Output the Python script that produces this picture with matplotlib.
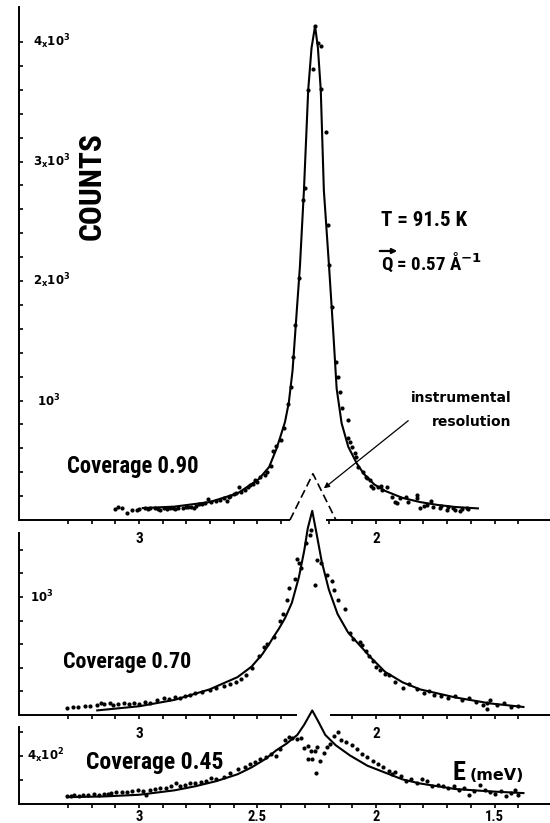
import numpy as np
import matplotlib
matplotlib.use('Agg')
import matplotlib.pyplot as plt
from matplotlib import font_manager as fm

# pick a condensed bold face if one is installed
FAMILY, STRETCH = 'DejaVu Sans', 'normal'
for name, stretch in [('Liberation Sans Narrow', None), ('Roboto Condensed', None),
                      ('DejaVu Sans', 'condensed'), ('Noto Sans', 'condensed'),
                      ('Open Sans', 'condensed'), ('Roboto', 'condensed')]:
    hits = [f for f in fm.fontManager.ttflist if f.name == name
            and (stretch is None or f.stretch == stretch)]
    if hits:
        FAMILY, STRETCH = name, stretch or 'normal'
        break

plt.rcParams.update({
    'font.family': FAMILY,
    'font.stretch': STRETCH,
    'font.weight': 'bold',
    'mathtext.fontset': 'dejavusans',
    'mathtext.default': 'bf',
    'axes.linewidth': 1.4,
})

# ---- coverage 0.90 (top panel) ----
fit90_e = [2.984, 2.850, 2.702, 2.584, 2.495, 2.451, 2.421, 2.406, 2.384, 2.368,
           2.352, 2.336, 2.321, 2.304, 2.286, 2.272, 2.257, 2.245, 2.233, 2.220,
           2.198, 2.180, 2.166, 2.145, 2.117, 2.081, 2.051, 2.007, 1.962, 1.888,
           1.814, 1.740, 1.666, 1.570]
fit90_c = [100, 112, 150, 223, 341, 443, 590, 680, 820, 980,
           1250, 1700, 2120, 2760, 3598, 3950, 4134, 3950, 3598, 2760,
           2120, 1562, 1100, 809, 613, 473, 385, 297, 244, 185,
           150, 126, 109, 97]
pts90_e = [3.102, 3.087, 3.070, 3.050, 3.028, 3.010, 2.999, 2.976, 2.960, 2.954,
           2.932, 2.920, 2.910, 2.895, 2.880, 2.870, 2.858, 2.850, 2.836, 2.813,
           2.800, 2.791, 2.780, 2.769, 2.760, 2.747, 2.732, 2.720, 2.710, 2.695,
           2.673, 2.660, 2.643, 2.628, 2.620, 2.614, 2.599, 2.590, 2.577, 2.569,
           2.554, 2.540, 2.532, 2.520, 2.510, 2.500, 2.488, 2.470, 2.458, 2.443,
           2.436, 2.421, 2.402, 2.388, 2.371, 2.357, 2.349, 2.342, 2.325, 2.309,
           2.300, 2.286, 2.267, 2.257, 2.243, 2.233, 2.233, 2.211, 2.201, 2.197,
           2.187, 2.170, 2.159, 2.152, 2.142, 2.119, 2.117, 2.110, 2.103, 2.088,
           2.084, 2.075, 2.056, 2.044, 2.039, 2.025, 2.021, 2.011, 1.990, 1.977,
           1.976, 1.955, 1.934, 1.918, 1.913, 1.899, 1.873, 1.864, 1.829, 1.828,
           1.814, 1.799, 1.786, 1.770, 1.758, 1.730, 1.726, 1.702, 1.696, 1.674,
           1.666, 1.646, 1.637, 1.617, 1.614]
pts90_c = [91, 106, 97, 62, 85, 85, 91, 100, 95, 97,
           97, 92, 85, 97, 91, 100, 97, 95, 103, 100,
           108, 106, 112, 100, 118, 132, 135, 140, 173, 150,
           161, 170, 185, 161, 190, 202, 214, 222, 273, 238,
           252, 280, 296, 300, 331, 318, 361, 380, 405, 449,
           575, 619, 669, 767, 971, 1110, 1367, 1632, 2023, 2678,
           2776, 3598, 3771, 4134, 3994, 3967, 3607, 3250, 2469, 2134,
           1780, 1325, 1200, 1068, 935, 837, 684, 655, 613, 561,
           525, 441, 404, 361, 349, 335, 282, 265, 279, 282,
           251, 274, 195, 150, 140, 182, 194, 153, 208, 182,
           98, 120, 126, 156, 111, 98, 120, 84, 106, 98,
           85, 75, 91, 98, 91]
res_e = [2.363, 2.266, 2.169]
res_c = [0, 387, 0]

# ---- coverage 0.70 (middle panel) ----
fit70_e = [3.176, 2.999, 2.850, 2.702, 2.584, 2.525, 2.480, 2.451, 2.436, 2.410,
           2.384, 2.355, 2.325, 2.303, 2.288, 2.269, 2.251, 2.229, 2.199, 2.162,
           2.118, 2.073, 2.021, 1.962, 1.888, 1.814, 1.666, 1.518, 1.378]
fit70_c = [39, 74, 128, 217, 321, 410, 514, 600, 650, 730,
           820, 950, 1170, 1390, 1580, 1730, 1540, 1300, 1063, 855,
           700, 600, 485, 366, 277, 217, 149, 98, 68]
pts70_e = [3.302, 3.280, 3.258, 3.228, 3.206, 3.176, 3.161, 3.147, 3.124, 3.110,
           3.087, 3.065, 3.043, 3.021, 2.999, 2.976, 2.954, 2.925, 2.895, 2.873,
           2.850, 2.828, 2.806, 2.784, 2.762, 2.732, 2.702, 2.673, 2.643, 2.614,
           2.591, 2.569, 2.547, 2.525, 2.495, 2.473, 2.458, 2.429, 2.406, 2.392,
           2.377, 2.365, 2.343, 2.335, 2.325, 2.318, 2.294, 2.279, 2.275, 2.258,
           2.247, 2.232, 2.207, 2.184, 2.177, 2.162, 2.132, 2.110, 2.095, 2.066,
           2.058, 2.044, 2.029, 2.014, 1.999, 1.984, 1.962, 1.947, 1.918, 1.888,
           1.859, 1.829, 1.799, 1.777, 1.755, 1.725, 1.696, 1.666, 1.637, 1.607,
           1.577, 1.548, 1.533, 1.518, 1.489, 1.459, 1.429, 1.400, 1.533]
pts70_c = [62, 68, 68, 74, 77, 83, 98, 89, 98, 83,
           92, 98, 89, 104, 92, 113, 104, 128, 143, 134,
           152, 143, 164, 172, 187, 193, 211, 232, 247, 262,
           283, 306, 336, 402, 500, 574, 603, 662, 795, 855,
           974, 1072, 1152, 1325, 1286, 1242, 1456, 1524, 1569, 1099,
           1316, 1286, 1182, 1137, 1063, 974, 900, 691, 647, 617,
           589, 545, 500, 455, 410, 381, 351, 336, 277, 232,
           262, 217, 187, 202, 172, 157, 143, 164, 128, 143,
           113, 83, 104, 128, 83, 98, 68, 74, 54]

# ---- coverage 0.45 (bottom panel) ----
fit45_e = [3.302, 3.147, 2.999, 2.850, 2.762, 2.673, 2.584, 2.525, 2.466, 2.421,
           2.377, 2.332, 2.303, 2.269, 2.244, 2.214, 2.170, 2.110, 2.036, 1.962,
           1.888, 1.814, 1.666, 1.518, 1.378]
fit45_c = [57, 63, 77, 114, 148, 191, 248, 305, 376, 447,
           504, 576, 661, 780, 690, 576, 490, 405, 319, 262,
           205, 171, 125, 105, 91]
pts45_e = [3.302, 3.287, 3.272, 3.253, 3.235, 3.213, 3.191, 3.169, 3.147, 3.132,
           3.118, 3.095, 3.073, 3.050, 3.028, 3.006, 2.984, 2.969, 2.954, 2.932,
           2.910, 2.887, 2.865, 2.843, 2.828, 2.806, 2.784, 2.762, 2.739, 2.717,
           2.695, 2.673, 2.643, 2.614, 2.584, 2.554, 2.532, 2.510, 2.488, 2.466,
           2.443, 2.421, 2.406, 2.384, 2.369, 2.355, 2.332, 2.315, 2.303, 2.288,
           2.276, 2.288, 2.269, 2.258, 2.251, 2.254, 2.236, 2.221, 2.207, 2.192,
           2.177, 2.162, 2.147, 2.125, 2.103, 2.081, 2.058, 2.036, 2.014, 1.992,
           1.970, 1.947, 1.933, 1.918, 1.896, 1.873, 1.851, 1.829, 1.807, 1.784,
           1.762, 1.740, 1.718, 1.696, 1.673, 1.651, 1.629, 1.607, 1.585, 1.563,
           1.540, 1.518, 1.496, 1.474, 1.452, 1.429, 1.415, 1.400]
pts45_c = [68, 63, 74, 68, 74, 74, 80, 77, 86, 86,
           91, 97, 97, 103, 105, 114, 105, 77, 120, 125,
           131, 134, 148, 171, 154, 162, 171, 171, 182, 191,
           219, 205, 225, 262, 291, 311, 334, 353, 376, 390,
           419, 399, 462, 533, 556, 547, 541, 547, 470, 484,
           439, 376, 373, 439, 476, 262, 362, 422, 476, 504,
           564, 604, 533, 519, 490, 462, 419, 390, 362, 333,
           305, 276, 248, 268, 234, 191, 211, 177, 205, 191,
           148, 162, 148, 134, 154, 120, 134, 77, 105, 162,
           120, 97, 86, 105, 63, 91, 120, 77]

W, H = 550, 823
E_LEFT, E_RIGHT = 3.506, 1.266
ticks = np.round(np.arange(3.3, 1.35, -0.1), 1)

fig = plt.figure(figsize=(W / 100, H / 100), dpi=100)


def box(top, bottom):
    return [19 / W, 1 - bottom / H, 1 - 19 / W, (bottom - top) / H]


def style(ax, ymax, yticks, xlabels, gap, pad, lsize):
    ax.set_xlim(E_LEFT, E_RIGHT)
    ax.set_ylim(0, ymax)
    ax.patch.set_visible(False)
    for s in ['top', 'right', 'bottom']:
        ax.spines[s].set_visible(False)
    xt = [t for t in ticks if not (gap and gap[1] < t < gap[0])]
    ax.set_xticks(xt)
    ax.set_xticklabels([xlabels.get(t, '') for t in xt])
    ax.tick_params(axis='x', direction='out', length=3.2, width=1.2, pad=pad,
                   labelsize=lsize)
    ax.set_yticks(yticks)
    ax.tick_params(axis='y', direction='in', length=3.2, width=1.2,
                   labelleft=False)
    spans = [(E_LEFT, gap[0]), (gap[1], E_RIGHT)] if gap else [(E_LEFT, E_RIGHT)]
    for a, b in spans:
        ax.plot([a, b], [0, 0], 'k-', lw=1.4, clip_on=False,
                solid_capstyle='butt')


def ylab(ax, val, text, dx):
    ax.annotate(text, xy=(0, val), xycoords=('axes fraction', 'data'),
                xytext=(dx, 0), textcoords='offset points',
                ha='left', va='center', fontsize=8.5)


def data(ax, fe, fc, pe, pc):
    ax.plot(fe, fc, 'k-', lw=1.5, clip_on=False, solid_joinstyle='round')
    ax.plot(pe, pc, 'o', color='k', ms=3.0, mew=0, clip_on=False)


ax1 = fig.add_axes(box(7, 520))
ax2 = fig.add_axes(box(533, 715))
ax3 = fig.add_axes(box(727, 804))

style(ax1, 4293, np.arange(200, 4001, 200), {3.0: '3', 2.0: '2'},
      (2.363, 2.212), 5.5, 11)
style(ax2, 1542, np.arange(200, 1401, 200), {3.0: '3', 2.0: '2'},
      (2.332, 2.192), 5.5, 11)
style(ax3, 642, [200, 400, 600], {3.0: '3', 2.5: '2.5', 2.0: '2', 1.5: '1.5'},
      None, 1, 10.5)

data(ax1, fit90_e, fit90_c, pts90_e, pts90_c)
ax1.plot(res_e, res_c, 'k-', lw=1.2, dashes=(5, 2.5), clip_on=False)
data(ax2, fit70_e, fit70_c, pts70_e, pts70_c)
data(ax3, fit45_e, fit45_c, pts45_e, pts45_c)

ylab(ax1, 4000, r'$4_{x}10^{3}$', 10)
ylab(ax1, 3000, r'$3_{x}10^{3}$', 10)
ylab(ax1, 2000, r'$2_{x}10^{3}$', 10)
ylab(ax1, 1000, r'$10^{3}$', 13)
ylab(ax2, 1000, r'$10^{3}$', 8)
ylab(ax3, 400, r'$4_{x}10^{2}$', 6)

ax1.annotate('', xy=(2.22, 265), xytext=(1.864, 831),
             arrowprops=dict(arrowstyle='-|>', color='k', lw=0.9,
                             mutation_scale=8, shrinkA=0, shrinkB=0))

renderer = fig.canvas.get_renderer()


def ftxt(x, y, s, width=None, length=None, **kw):
    t = fig.text(x / W, 1 - y / H, s, **kw)
    if width or length:
        bb = t.get_window_extent(renderer)
        scale = width / bb.width if width else length / bb.height
        t.set_fontsize(t.get_fontsize() * scale)
    return t


ftxt(92, 186, 'COUNTS', length=108, rotation=90, ha='center', va='center',
     fontsize=21)
ftxt(381, 221, 'T = 91.5 K', width=86, ha='left', va='center', fontsize=15)
ftxt(381, 262, r'Q = 0.57 Å$^{-1}$', width=101, ha='left', va='center',
     fontsize=15)
fig.add_artist(matplotlib.patches.FancyArrowPatch(
    (377 / W, 1 - 251 / H), (400 / W, 1 - 251 / H), transform=fig.transFigure,
    arrowstyle='-|>', mutation_scale=7, lw=1.6, color='k'))
ftxt(512, 398, 'instrumental', ha='right', va='center', fontsize=10,
     family='DejaVu Sans', stretch='normal')
ftxt(511, 422, 'resolution', ha='right', va='center', fontsize=10,
     family='DejaVu Sans', stretch='normal')
ftxt(67, 466, 'Coverage 0.90', width=132, ha='left', va='center', fontsize=15)
ftxt(63, 662, 'Coverage 0.70', width=128, ha='left', va='center', fontsize=15)
ftxt(86, 762, 'Coverage 0.45', width=138, ha='left', va='center', fontsize=15)
ftxt(453, 773, 'E', ha='left', va='center', fontsize=19)
ftxt(470, 775, '(meV)', ha='left', va='center', fontsize=11.5,
     family='DejaVu Sans', stretch='normal')

fig.savefig('out.png', dpi=100)
